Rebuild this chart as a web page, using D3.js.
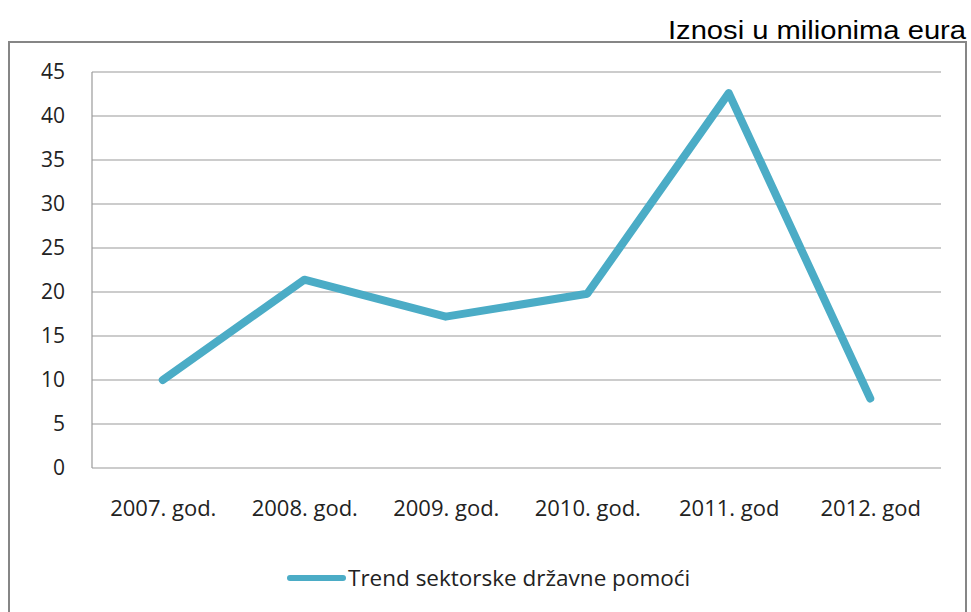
<!DOCTYPE html>
<html>
<head>
<meta charset="utf-8">
<script src="https://cdn.jsdelivr.net/npm/d3@7"></script>
<style>
body { margin: 0; background: #fff; }
</style>
</head>
<body>
<div id="chart"></div>
<script>
// values
var years = ["2007. god.", "2008. god.", "2009. god.", "2010. god.", "2011. god", "2012. god"];
var amounts = [10.0, 21.4, 17.2, 19.8, 42.6, 7.9];
var yTicks = [0, 5, 10, 15, 20, 25, 30, 35, 40, 45];
var seriesName = "Trend sektorske državne pomoći";
var unitNote = "Iznosi u milionima eura";

var data = [];
for (i = 0; i < years.length; i++) {
    data.push({ "year": years[i], "val": amounts[i] })
}

var W = 971, H = 612;
var margin = { top: 72, right: 30, bottom: 144, left: 92 },
    width = W - margin.left - margin.right,
    height = H - margin.top - margin.bottom;

var svgRoot = d3.select("#chart")
    .append("svg")
    .attr("width", W)
    .attr("height", H);

// outer frame
svgRoot.append("rect")
    .attr("x", 9).attr("y", 42)
    .attr("width", 957).attr("height", 600)
    .attr("fill", "none")
    .attr("stroke", "#868686")
    .attr("stroke-width", 2);

svgRoot.append("text")
    .attr("x", 966).attr("y", 39)
    .attr("text-anchor", "end")
    .attr("textLength", 298)
    .attr("lengthAdjust", "spacingAndGlyphs")
    .style("font-family", "Liberation Sans, Arial, sans-serif")
    .style("font-size", "25px")
    .style("fill", "#000")
    .text(unitNote);

var svg = svgRoot.append("g")
    .attr("transform", "translate(" + margin.left + "," + margin.top + ")");

var x = d3.scalePoint()
    .domain(years)
    .range([0, width])
    .padding(0.5);

var y = d3.scaleLinear()
    .domain([0, 45])
    .range([height, 0]);

// gridlines
svg.append("g")
    .selectAll("line.grid")
    .data(yTicks)
    .enter()
    .append("line")
    .attr("class", "grid")
    .attr("x1", 0).attr("x2", width)
    .attr("y1", function (d) { return y(d) })
    .attr("y2", function (d) { return y(d) })
    .attr("stroke", "#9a9a9a")
    .attr("stroke-width", 1.2);

// left axis line
svg.append("line")
    .attr("x1", 0).attr("x2", 0)
    .attr("y1", 0).attr("y2", height)
    .attr("stroke", "#9a9a9a")
    .attr("stroke-width", 1.2);

var yAxis = svg.append("g")
    .call(d3.axisLeft(y).tickValues(yTicks).tickSize(0).tickPadding(27));
yAxis.select(".domain").remove();
yAxis.selectAll("text")
    .style("font-family", "Open Sans, sans-serif")
    .style("font-size", "21px")
    .style("fill", "#222");

var xAxis = svg.append("g")
    .attr("transform", "translate(0," + height + ")")
    .call(d3.axisBottom(x).tickSize(0).tickPadding(32));
xAxis.select(".domain").remove();
xAxis.selectAll("text")
    .style("font-family", "Open Sans, sans-serif")
    .style("font-size", "22px")
    .style("fill", "#222");

// the line
svg.append("path")
    .datum(data)
    .attr("fill", "none")
    .attr("stroke", "#4bacc6")
    .attr("stroke-width", 8)
    .attr("stroke-linejoin", "round")
    .attr("stroke-linecap", "round")
    .attr("d", d3.line()
        .x(function (d) { return x(d.year) })
        .y(function (d) { return y(d.val) })
    );

// legend
var leg = svgRoot.append("g").attr("transform", "translate(290,578)");
leg.append("line")
    .attr("x1", 0).attr("x2", 53)
    .attr("y1", 0).attr("y2", 0)
    .attr("stroke", "#4bacc6")
    .attr("stroke-width", 6)
    .attr("stroke-linecap", "round");
leg.append("text")
    .attr("x", 58).attr("y", 8)
    .style("font-family", "Open Sans, sans-serif")
    .style("font-size", "22.5px")
    .style("fill", "#222")
    .text(seriesName);
</script>
</body>
</html>
